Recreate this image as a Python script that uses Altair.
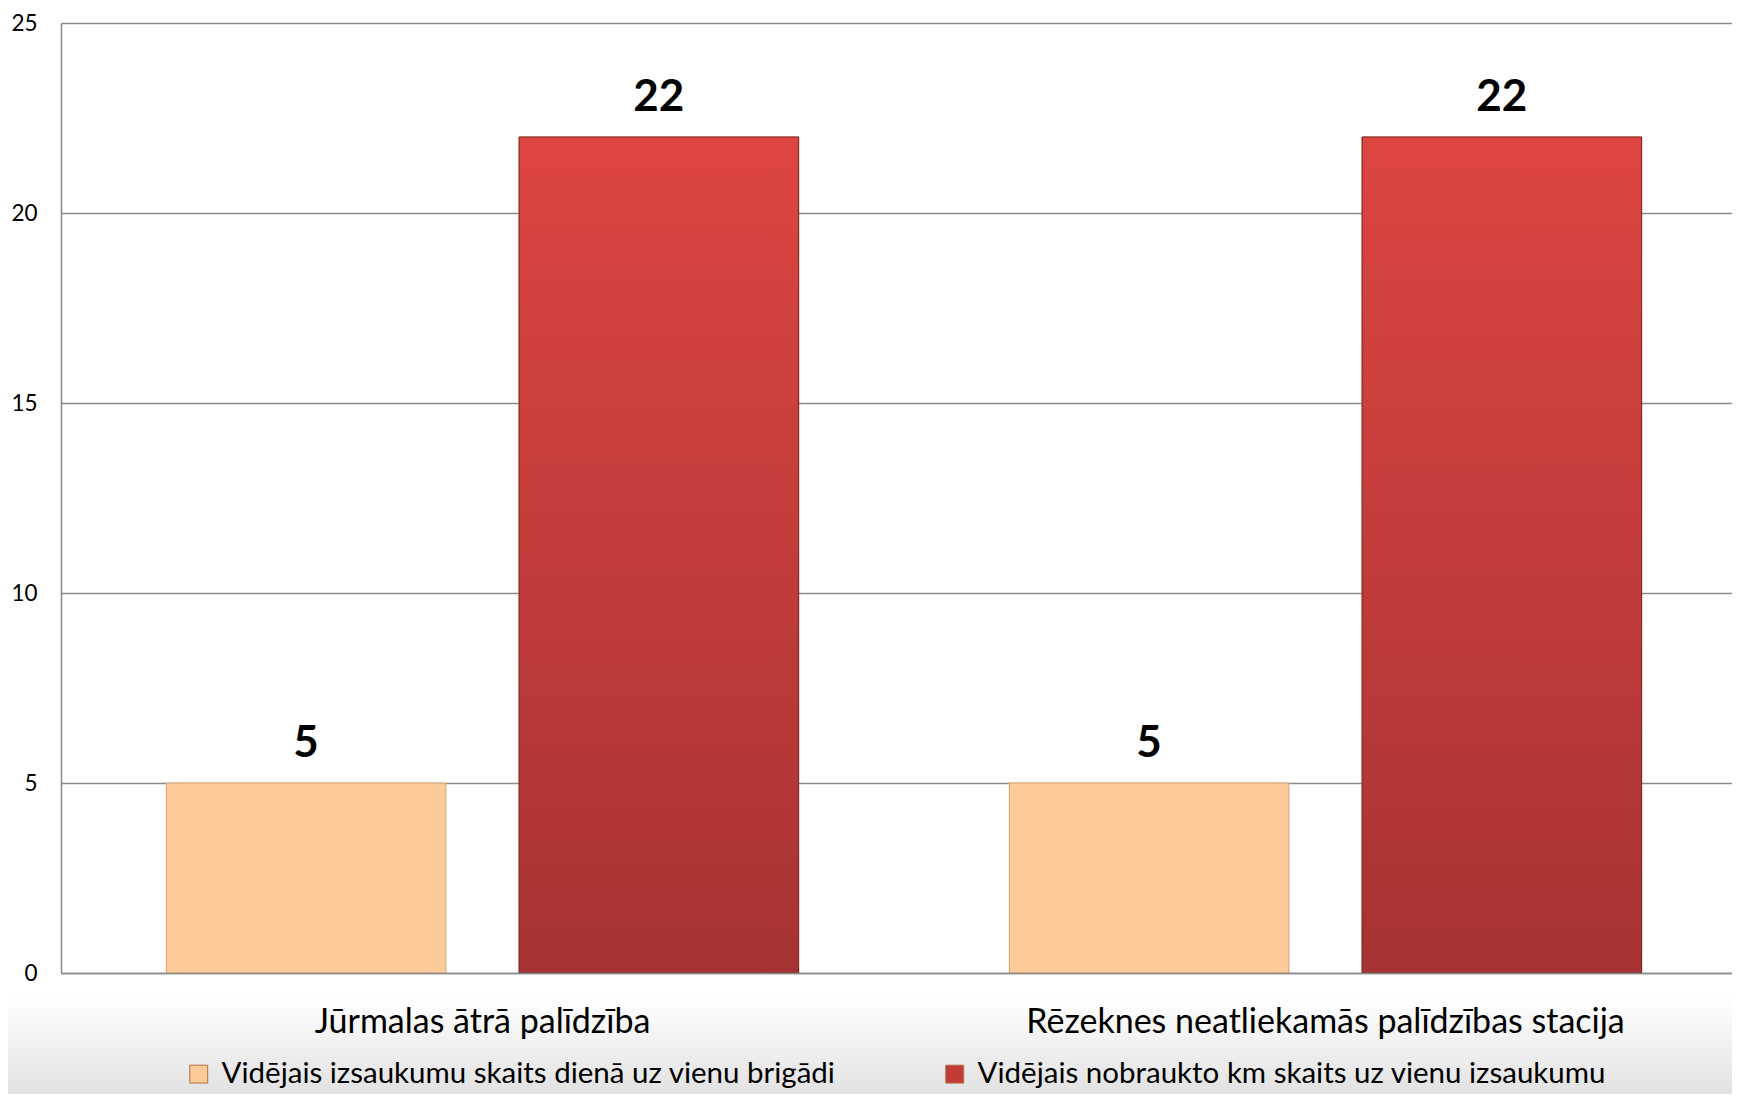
import altair as alt
import pandas as pd

categories = ["Jūrmalas ātrā palīdzība", "Rēzeknes neatliekamās palīdzības stacija"]
series = [
    "Vidējais izsaukumu skaits dienā uz vienu brigādi",
    "Vidējais nobraukto km skaits uz vienu izsaukumu",
]
values_calls = [5, 5]
values_km = [22, 22]
colors = ["#FDCB99", "#C23B38"]
y_ticks = [0, 5, 10, 15, 20, 25]

rows = []
for i, c in enumerate(categories):
    rows.append({"category": c, "series": series[0], "value": values_calls[i]})
    rows.append({"category": c, "series": series[1], "value": values_km[i]})
df = pd.DataFrame(rows)

FONT = "Lato"
GRID = "#8a8a8a"

x_enc = alt.X(
    "category:N",
    scale=alt.Scale(domain=categories, range=[0, 1686], paddingInner=0, paddingOuter=0),
    axis=alt.Axis(
        title=None, labelAngle=0, labelFontSize=34, labelFont=FONT, labelColor="black",
        ticks=False, domainColor=GRID, domainWidth=1.5, labelPadding=32, zindex=1,
        labelLimit=0,
    ),
)
xo_enc = alt.XOffset(
    "series:N",
    scale=alt.Scale(domain=series, paddingInner=0.2075, paddingOuter=0.2987),
)
y_enc = alt.Y(
    "value:Q",
    scale=alt.Scale(domain=[0, 25], nice=False),
    axis=alt.Axis(
        title=None, values=y_ticks, labelFontSize=22.5, labelFont=FONT, labelColor="black",
        ticks=False, domainColor=GRID, domainWidth=1.5, gridColor=GRID, gridWidth=1.5,
        labelPadding=24,
    ),
)

bg = alt.Chart(pd.DataFrame({"d": [0]})).mark_rect(
    fill={
        "gradient": "linear", "x1": 0, "y1": 0, "x2": 0, "y2": 1,
        "stops": [{"offset": 0, "color": "#ffffff"}, {"offset": 1, "color": "#dcdcdc"}],
    }
).encode(
    x=alt.value(-61), x2=alt.value(1740), y=alt.value(975), y2=alt.value(1090)
)

bars = alt.Chart(df).mark_bar(stroke="#d9a070", strokeWidth=1).encode(
    x=x_enc,
    xOffset=xo_enc,
    y=y_enc,
    color=alt.Color(
        "series:N",
        scale=alt.Scale(domain=series, range=colors),
        legend=alt.Legend(
            title=None, orient="none", direction="horizontal",
            legendX=123, legendY=1036,
            symbolType="square", symbolSize=320, symbolStrokeColor="#b07040",
            symbolStrokeWidth=1,
            labelFontSize=29.5, labelFont=FONT, labelColor="black", labelLimit=0,
            labelOffset=8, columnPadding=104,
        ),
    ),
)

red_overlay = alt.Chart(df).transform_filter(
    alt.datum.series == series[1]
).mark_bar(
    stroke="#7a2020", strokeWidth=1,
    fill={
        "gradient": "linear", "x1": 0, "y1": 0, "x2": 0, "y2": 1,
        "stops": [{"offset": 0, "color": "#DD4541"}, {"offset": 1, "color": "#A63333"}],
    },
).encode(x=x_enc, xOffset=xo_enc, y=y_enc)

labels = alt.Chart(df).mark_text(
    font=FONT, fontSize=44, fontWeight="bold", color="black", baseline="bottom", dy=-17
).encode(x=x_enc, xOffset=xo_enc, y=y_enc, text=alt.Text("value:Q"))

chart = alt.layer(bg, bars, red_overlay, labels).properties(
    width=1671, height=950,
    autosize=alt.AutoSizeParams(type="none"),
    padding={"left": 53, "top": 15, "right": 0, "bottom": 121},
).configure_view(stroke=None).configure(background="white")

chart.save("out.html", embed_options={"renderer": "svg", "actions": False})
